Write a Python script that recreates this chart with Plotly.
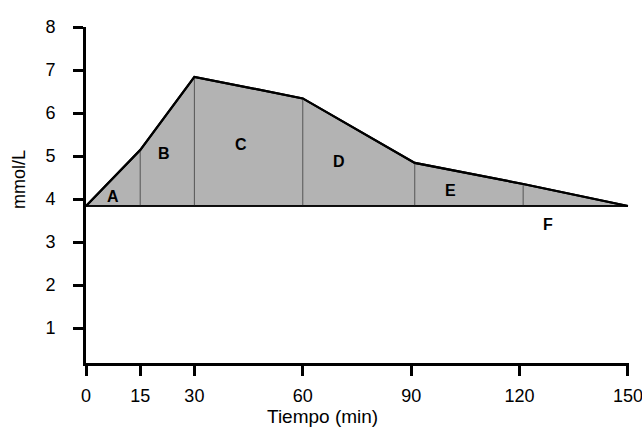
import plotly.graph_objects as go

times = [0, 15, 30, 60, 91, 121, 150]
glucose = [3.84, 5.14, 6.84, 6.34, 4.84, 4.35, 3.84]
baseline = 3.84
region_labels = ["A", "B", "C", "D", "E", "F"]
label_x = [7.5, 21.5, 43, 70, 101, 128]
label_y = [4.07, 5.07, 5.26, 4.88, 4.2, 3.4]
x_ticks = [0, 15, 30, 60, 90, 120, 150]
y_ticks = [1, 2, 3, 4, 5, 6, 7, 8]

FONT = "Liberation Sans, Arial, sans-serif"

fig = go.Figure()
fig.add_trace(go.Scatter(x=times, y=[baseline] * len(times), mode="lines",
                         line=dict(color="black", width=1.5), hoverinfo="skip", showlegend=False))
fig.add_trace(go.Scatter(x=times, y=glucose, mode="lines", fill="tonexty",
                         fillcolor="#b3b3b3", line=dict(color="black", width=2.2),
                         hoverinfo="skip", showlegend=False))
dx, dy = [], []
for t, g in zip(times[1:-1], glucose[1:-1]):
    dx += [t, t, None]
    dy += [baseline, g, None]
fig.add_trace(go.Scatter(x=dx, y=dy, mode="lines", line=dict(color="#555555", width=1),
                         hoverinfo="skip", showlegend=False))
fig.add_trace(go.Scatter(x=times, y=glucose, mode="lines", line=dict(color="black", width=2.2),
                         hoverinfo="skip", showlegend=False))
fig.add_trace(go.Scatter(x=[times[0], times[-1]], y=[baseline, baseline], mode="lines",
                         line=dict(color="black", width=1.5), hoverinfo="skip", showlegend=False))

for lab, lx, ly in zip(region_labels, label_x, label_y):
    fig.add_annotation(x=lx, y=ly, text="<b>" + lab + "</b>", showarrow=False,
                       font=dict(family=FONT, size=16, color="black"))

fig.add_annotation(xref="paper", yref="paper", x=-0.123, y=0.545, text="mmol/L", textangle=-90,
                   xanchor="center", yanchor="middle",
                   showarrow=False, font=dict(family=FONT, size=18, color="black"))
fig.add_annotation(xref="paper", yref="paper", x=0.435, y=-0.158, text="Tiempo (min)",
                   xanchor="center", yanchor="middle",
                   showarrow=False, font=dict(family=FONT, size=19, color="black"))

fig.update_layout(
    width=642, height=428,
    margin=dict(l=86, r=13, t=27, b=65),
    plot_bgcolor="white", paper_bgcolor="white",
    font=dict(family=FONT, size=18, color="black"),
    xaxis=dict(range=[0, 150.3], tickvals=x_ticks, ticks="outside", ticklen=10, tickwidth=3,
               tickcolor="black", showline=True, linewidth=3, linecolor="black", automargin=False,
               showgrid=False, zeroline=False, ticklabeloverflow="allow", ticklabelstandoff=4),
    yaxis=dict(range=[0.19, 8], tickvals=y_ticks, ticks="outside", ticklen=10, tickwidth=3,
               tickcolor="black", showline=True, linewidth=3, linecolor="black", automargin=False,
               showgrid=False, zeroline=False, ticklabelstandoff=14),
)

fig.write_html("out.html", config={"displayModeBar": False},
               post_script="document.body.style.margin='0';document.body.style.overflow='hidden';")
